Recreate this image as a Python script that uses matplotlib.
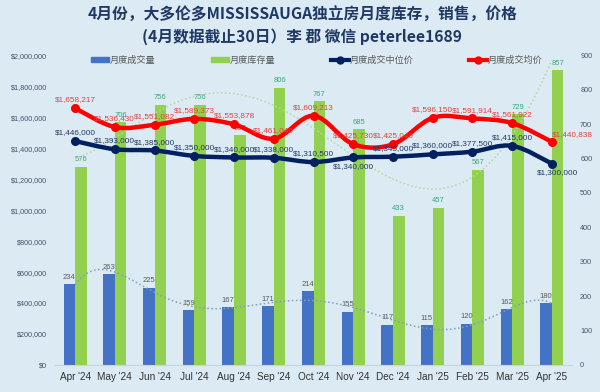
import numpy as np
import matplotlib
matplotlib.use("Agg")
import matplotlib.pyplot as plt
from matplotlib.path import Path
from matplotlib.patches import PathPatch, Patch
from matplotlib.lines import Line2D
from matplotlib.ticker import FuncFormatter, MultipleLocator

plt.rcParams['font.family'] = ['Liberation Sans', 'Noto Sans CJK SC', 'DejaVu Sans']

months = ["Apr '24", "May '24", "Jun '24", "Jul '24", "Aug '24", "Sep '24", "Oct '24",
          "Nov '24", "Dec '24", "Jan '25", "Feb '25", "Mar '25", "Apr '25"]
sales = [234, 263, 225, 159, 167, 171, 214, 155, 117, 115, 120, 162, 180]
inventory = [576, 706, 756, 756, 667, 806, 767, 685, 433, 457, 567, 729, 857]
median_price = [1446000, 1393000, 1385000, 1350000, 1340000, 1338000, 1310500,
                1340000, 1345000, 1360000, 1377500, 1415000, 1300000]
avg_price = [1658217, 1536430, 1551082, 1589373, 1553878, 1461040, 1609213,
             1425730, 1425040, 1596150, 1591914, 1561922, 1440838]

BG = '#dbeaf3'
BLUE = '#4472c4'
GREEN = '#92d050'
NAVY = '#002060'
RED = '#ff0000'


def smooth_path(x, y):
    # Excel style smoothed line: cubic bezier through every point
    x = np.asarray(x, float)
    y = np.asarray(y, float)
    n = len(x)
    verts = [(x[0], y[0])]
    codes = [Path.MOVETO]
    for i in range(n - 1):
        p0 = np.array([x[max(i - 1, 0)], y[max(i - 1, 0)]])
        p1 = np.array([x[i], y[i]])
        p2 = np.array([x[i + 1], y[i + 1]])
        p3 = np.array([x[min(i + 2, n - 1)], y[min(i + 2, n - 1)]])
        c1 = p1 + (p2 - p0) / 6.0
        c2 = p2 - (p3 - p1) / 6.0
        verts += [tuple(c1), tuple(c2), tuple(p2)]
        codes += [Path.CURVE4] * 3
    return Path(verts, codes)


def trend(x, y, deg):
    xs = np.linspace(x[0], x[-1], 200)
    coef = np.polyfit(x, y, deg)
    return xs, np.polyval(coef, xs)


fig = plt.figure(figsize=(6, 3.92), dpi=100, facecolor=BG)
ax = fig.add_axes([0.092, 0.069, 0.861, 0.79])
ax2 = ax.twinx()

x = np.arange(len(months))
w = 0.29

# bars on the right axis
ax2.bar(x - w / 2, sales, w, color=BLUE, zorder=2)
ax2.bar(x + w / 2, inventory, w, color=GREEN, zorder=2)
for i in range(len(x)):
    ax2.annotate(str(sales[i]), (x[i] - w / 2, sales[i]), xytext=(0, 2.5),
                 textcoords='offset points', ha='center', va='bottom',
                 fontsize=5.5, color='#595959')
    ax2.annotate(str(inventory[i]), (x[i] + w / 2, inventory[i]), xytext=(0, 2.5),
                 textcoords='offset points', ha='center', va='bottom',
                 fontsize=5.5, color='#3aa876')

# trendlines
tx, ty = trend(x, sales, 6)
ax2.plot(tx, ty, ls=':', color='#7f9fc0', lw=1.1, zorder=3)
tx, ty = trend(x, inventory, 5)
ax2.plot(tx, ty, ls=':', color='#b5d99a', lw=1.1, zorder=3)

ax2.set_ylim(0, 900)
ax2.yaxis.set_major_locator(MultipleLocator(100))

# price lines on the left axis, drawn above the bars
ax.set_zorder(ax2.get_zorder() + 1)
ax.patch.set_visible(False)
ax2.patch.set_facecolor(BG)

ax.add_patch(PathPatch(smooth_path(x, avg_price), fill=False, color=RED, lw=3.2,
                       capstyle='round', zorder=4))
ax.plot(x, avg_price, 'o', color=RED, ms=5.5, zorder=5)
ax.add_patch(PathPatch(smooth_path(x, median_price), fill=False, color=NAVY, lw=3.2,
                       capstyle='round', zorder=4))
ax.plot(x, median_price, 'o', color=NAVY, ms=5.5, zorder=5)

for i in range(len(x)):
    dx, dy, va = 0, 3.5, 'bottom'
    if i == 7:
        dy, va = -4, 'top'
    if i == 12:
        dx, dy, va = 4, -4, 'top'
    ax.annotate('${:,}'.format(median_price[i]), (x[i], median_price[i]),
                xytext=(dx, dy), textcoords='offset points', ha='center', va=va,
                fontsize=5.9, color='#203864', zorder=6)
    dx, dy, ha = 0, 3.5, 'center'
    if i == 12:
        dx, dy, ha = 0, 2.5, 'left'
    ax.annotate('${:,}'.format(avg_price[i]), (x[i], avg_price[i]),
                xytext=(dx, dy), textcoords='offset points', ha=ha, va='bottom',
                fontsize=5.9, color='#e8413a', zorder=6)

ax.set_ylim(0, 2000000)
ax.yaxis.set_major_locator(MultipleLocator(200000))
ax.yaxis.set_major_formatter(FuncFormatter(lambda v, p: '${:,.0f}'.format(v)))
ax.set_xlim(-0.5, len(x) - 0.5)
ax.set_xticks(x)
ax.set_xticklabels(months)

for a in (ax, ax2):
    for s in a.spines.values():
        s.set_visible(False)
    a.tick_params(length=0)
ax.spines['bottom'].set_visible(True)
ax.spines['bottom'].set_color('#c8d4dc')
ax.tick_params(axis='y', labelsize=5.2, labelcolor='#44546a', pad=6)
ax.tick_params(axis='x', labelsize=7.2, labelcolor='#333333', pad=5)
ax2.tick_params(axis='y', labelsize=5.2, labelcolor='#44546a', pad=6)

handles = [Patch(color=BLUE), Patch(color=GREEN),
           Line2D([], [], color=NAVY, lw=3, marker='o', ms=5),
           Line2D([], [], color=RED, lw=3, marker='o', ms=5)]
labels = ['月度成交量', '月度库存量', '月度成交中位价', '月度成交均价']
fig.legend(handles, labels, loc='center', bbox_to_anchor=(0.528, 0.847), ncol=4,
           frameon=False, fontsize=6.6, labelcolor='#595959', handlelength=1.95,
           handleheight=0.5, columnspacing=6.1, handletextpad=0.05)

title_font = ['Noto Sans CJK SC', 'DejaVu Sans']
fig.text(0.504, 0.962, '4月份，大多伦多MISSISSAUGA独立房月度库存，销售，价格',
         ha='center', va='center', fontsize=11.3, fontweight='bold',
         color='#1f3864', family=title_font)
fig.text(0.504, 0.906, '(4月数据截止30日）李 郡 微信 peterlee1689',
         ha='center', va='center', fontsize=11.3, fontweight='bold',
         color='#1f3864', family=title_font)

fig.savefig('out.png', dpi=100, facecolor=BG)
